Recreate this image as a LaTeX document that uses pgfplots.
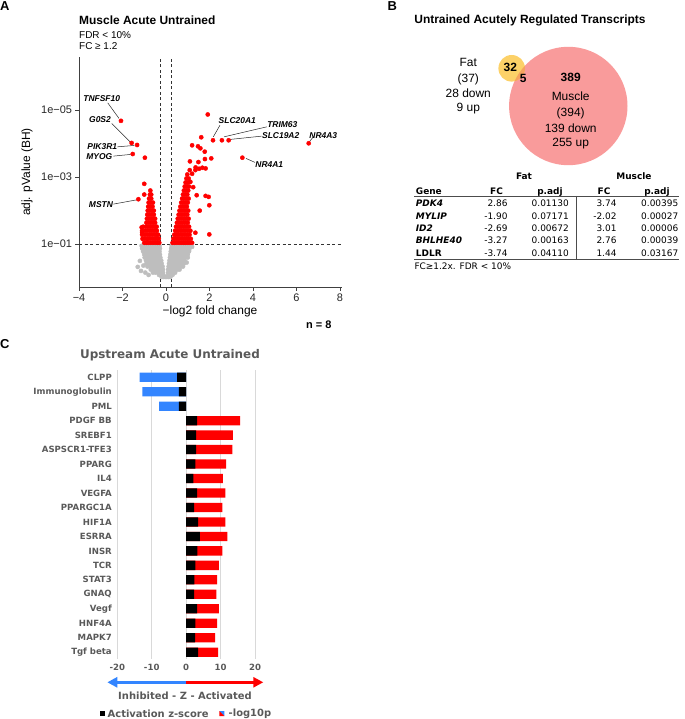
\documentclass[border=0pt]{standalone}
\usepackage{fontspec}
\setmainfont{Liberation Sans}
\newfontfamily\dv{DejaVu Sans}
\usepackage{pgfplots}
\pgfplotsset{compat=1.18}
\usetikzlibrary{arrows.meta}
\newcommand{\fs}[1]{\fontsize{#1}{#1}\selectfont}
\definecolor{sigred}{HTML}{FF0000}
\definecolor{nsgray}{HTML}{BEBEBE}
\definecolor{venpink}{HTML}{F99B9B}
\definecolor{vengold}{HTML}{FCD168}
\definecolor{venorange}{HTML}{F6A35E}
\definecolor{ipablue}{HTML}{3385FF}
\definecolor{ipagray}{HTML}{595959}
\definecolor{gridgray}{HTML}{D9D9D9}
\begin{document}
\begin{tikzpicture}
\path[use as bounding box] (0,0) rectangle (685bp,-719bp);

% ---------------- A: volcano ----------------
\begin{axis}[at={(79bp,-287bp)}, anchor=south west, scale only axis,
  width=263.2bp, height=229.8bp,
  xmin=-4, xmax=8.1, ymin=-0.28, ymax=6.58,
  axis x line*=bottom, axis y line*=left,
  axis line style={black!75, line width=0.7bp, -},
  tick align=outside, major tick length=3.5bp,
  tick style={black!75, line width=0.6bp},
  xtick={-4,-2,0,2,4,6,8}, xticklabels={−4,−2,0,2,4,6,8},
  ytick={1,3,5}, yticklabels={1e−01,1e−03,1e−05},
  tick label style={font=\fs{11}, text=black!85},
]
\addplot[only marks, mark=*, mark size=2.1bp, mark options={draw=nsgray, fill=nsgray}] coordinates {
(-0.2,0.02)(-0.12,0.02)(-0.04,0.02)(0.04,0.02)(0.12,0.02)(0.2,0.02)
(-0.32,0.08)(-0.22,0.08)(-0.12,0.08)(0.1,0.08)(0.2,0.08)(0.3,0.08)
(-0.6,0.15)(-0.48,0.15)(-0.36,0.15)(-0.24,0.15)(-0.14,0.15)(0.1,0.15)(0.2,0.15)(0.3,0.15)(0.42,0.15)
(-0.7,0.24)(-0.58,0.24)(-0.46,0.24)(-0.34,0.24)(-0.22,0.24)(-0.14,0.24)(0.1,0.24)(0.18,0.24)(0.28,0.24)(0.4,0.24)(0.52,0.24)(0.62,0.24)
(-0.85,0.33)(-0.72,0.33)(-0.6,0.33)(-0.48,0.33)(-0.36,0.33)(-0.24,0.33)(-0.16,0.33)(0.12,0.33)(0.2,0.33)(0.3,0.33)(0.42,0.33)(0.55,0.33)(0.68,0.33)(0.78,0.33)
(-0.9,0.42)(-0.78,0.42)(-0.66,0.42)(-0.54,0.42)(-0.42,0.42)(-0.3,0.42)(-0.2,0.42)(0.14,0.42)(0.22,0.42)(0.34,0.42)(0.46,0.42)(0.58,0.42)(0.7,0.42)(0.82,0.42)
(-0.92,0.51)(-0.8,0.51)(-0.68,0.51)(-0.56,0.51)(-0.44,0.51)(-0.32,0.51)(-0.22,0.51)(0.16,0.51)(0.24,0.51)(0.36,0.51)(0.48,0.51)(0.6,0.51)(0.72,0.51)(0.85,0.51)
(-0.98,0.6)(-0.86,0.6)(-0.74,0.6)(-0.62,0.6)(-0.5,0.6)(-0.38,0.6)(-0.26,0.6)(0.18,0.6)(0.26,0.6)(0.38,0.6)(0.5,0.6)(0.62,0.6)(0.74,0.6)(0.88,0.6)
(-1.0,0.69)(-0.88,0.69)(-0.76,0.69)(-0.64,0.69)(-0.52,0.69)(-0.4,0.69)(-0.28,0.69)(0.2,0.69)(0.28,0.69)(0.4,0.69)(0.52,0.69)(0.64,0.69)(0.76,0.69)(0.9,0.69)(1.0,0.69)
(-1.05,0.78)(-0.92,0.78)(-0.8,0.78)(-0.68,0.78)(-0.56,0.78)(-0.44,0.78)(-0.3,0.78)(0.22,0.78)(0.3,0.78)(0.42,0.78)(0.54,0.78)(0.66,0.78)(0.78,0.78)(0.92,0.78)(1.05,0.78)
(-1.1,0.87)(-0.96,0.87)(-0.84,0.87)(-0.72,0.87)(-0.6,0.87)(-0.48,0.87)(-0.36,0.87)(-0.28,0.87)(0.24,0.87)(0.32,0.87)(0.44,0.87)(0.56,0.87)(0.68,0.87)(0.8,0.87)(0.94,0.87)(1.08,0.87)
(-1.12,0.95)(-1.0,0.95)(-0.88,0.95)(-0.76,0.95)(-0.64,0.95)(-0.52,0.95)(-0.4,0.95)(-0.3,0.95)(0.26,0.95)(0.34,0.95)(0.46,0.95)(0.58,0.95)(0.7,0.95)(0.82,0.95)(0.96,0.95)(1.1,0.95)
(-1.3,0.32)(-1.04,0.36)(-1.2,0.5)(-1.15,0.2)(-0.8,0.08)(-0.95,0.15)(1.06,0.8)(1.2,0.92)(0.95,0.45)(1.0,0.6)
};
\addplot[only marks, mark=*, mark size=2.1bp, mark options={draw=sigred, fill=sigred}] coordinates {
(-1.0,1.04)(-0.9,1.04)(-0.8,1.04)(-0.7,1.04)(-0.6,1.04)(-0.5,1.04)(-0.4,1.04)(-0.31,1.04)
(-1.08,1.16)(-0.96,1.16)(-0.85,1.16)(-0.74,1.16)(-0.63,1.16)(-0.52,1.16)(-0.42,1.16)(-0.33,1.16)
(-1.1,1.28)(-0.98,1.28)(-0.87,1.28)(-0.76,1.28)(-0.65,1.28)(-0.54,1.28)(-0.44,1.28)(-0.36,1.28)
(-1.1,1.4)(-0.95,1.4)(-0.84,1.4)(-0.73,1.4)(-0.62,1.4)(-0.52,1.4)(-0.42,1.4)
(-1.05,1.52)(-0.92,1.52)(-0.81,1.52)(-0.7,1.52)(-0.6,1.52)(-0.5,1.52)(-0.43,1.52)
(-0.9,1.64)(-0.8,1.64)(-0.7,1.64)(-0.6,1.64)(-0.5,1.64)
(-0.88,1.76)(-0.78,1.76)(-0.68,1.76)(-0.58,1.76)(-0.5,1.76)
(-0.86,1.88)(-0.76,1.88)(-0.66,1.88)(-0.56,1.88)
(-0.84,2.0)(-0.74,2.0)(-0.64,2.0)(-0.56,2.0)
(-0.82,2.12)(-0.72,2.12)(-0.62,2.12)
(-0.8,2.24)(-0.7,2.24)(-0.6,2.24)
(-0.78,2.36)(-0.68,2.36)(-0.74,2.48)(-0.68,2.48)(-0.72,2.6)
(-1.0,2.80)(-1.0,2.48)(-0.97,3.58)(-1.27,2.34)(-1.53,3.69)(-1.33,3.96)(-1.58,4.02)(-2.07,4.68)(-1.12,1.5)(-1.1,1.35)
(0.3,1.04)(0.4,1.04)(0.5,1.04)(0.6,1.04)(0.7,1.04)(0.8,1.04)(0.9,1.04)(1.0,1.04)(1.1,1.04)(1.2,1.04)
(0.34,1.16)(0.44,1.16)(0.54,1.16)(0.64,1.16)(0.74,1.16)(0.84,1.16)(0.94,1.16)(1.04,1.16)(1.14,1.16)
(0.38,1.28)(0.48,1.28)(0.58,1.28)(0.68,1.28)(0.78,1.28)(0.88,1.28)(0.98,1.28)(1.08,1.28)
(0.42,1.4)(0.52,1.4)(0.62,1.4)(0.72,1.4)(0.82,1.4)(0.92,1.4)(1.02,1.4)(1.12,1.4)
(0.46,1.52)(0.56,1.52)(0.66,1.52)(0.76,1.52)(0.86,1.52)(0.96,1.52)(1.06,1.52)
(0.5,1.64)(0.6,1.64)(0.7,1.64)(0.8,1.64)(0.9,1.64)(1.0,1.64)
(0.54,1.76)(0.64,1.76)(0.74,1.76)(0.84,1.76)(0.94,1.76)(1.04,1.76)
(0.58,1.88)(0.68,1.88)(0.78,1.88)(0.88,1.88)(0.98,1.88)
(0.62,2.0)(0.72,2.0)(0.82,2.0)(0.92,2.0)(1.02,2.0)
(0.66,2.12)(0.76,2.12)(0.86,2.12)(0.96,2.12)
(0.7,2.24)(0.8,2.24)(0.9,2.24)(1.0,2.24)
(0.74,2.36)(0.84,2.36)(0.94,2.36)(1.04,2.36)
(0.78,2.48)(0.88,2.48)(0.98,2.48)
(0.82,2.6)(0.92,2.6)(1.02,2.6)
(0.86,2.72)(0.96,2.72)(1.06,2.72)
(0.9,2.84)(1.0,2.84)(0.94,2.96)(1.04,2.96)(0.98,3.08)
(1.12,2.86)(1.09,3.21)(1.35,3.21)(1.10,3.47)(1.36,3.29)(1.52,3.25)(1.67,3.28)(1.82,3.26)
(1.49,3.45)(1.79,3.54)(2.08,3.56)(1.78,3.76)(1.58,3.86)(1.47,3.92)(1.20,3.95)(1.62,4.19)
(1.92,4.87)(2.16,4.10)(2.57,4.10)(2.88,4.10)(6.56,4.01)(3.51,3.58)
(1.41,2.46)(1.82,2.44)(1.96,2.41)(1.99,2.16)(1.35,1.34)(1.99,1.29)(1.2,3.1)(1.25,2.7)(1.55,2.0)
};
\addplot[black!80, line width=0.6bp, dash pattern=on 3bp off 2.5bp] coordinates {(-0.263,-0.28) (-0.263,6.58)};
\addplot[black!80, line width=0.6bp, dash pattern=on 3bp off 2.5bp] coordinates {(0.263,-0.28) (0.263,6.58)};
\addplot[black!80, line width=0.6bp, dash pattern=on 3bp off 2.5bp] coordinates {(-4,1) (8.1,1)};
% gene labels
\begin{scope}[every node/.style={font=\bfseries\itshape\fs{8.5}, inner sep=0}]
\node at (axis cs:-2.956,5.337) {TNFSF10};
\node at (axis cs:-3.034,4.731) {G0S2};
\node at (axis cs:-2.929,3.904) {PIK3R1};
\node at (axis cs:-3.067,3.606) {MYOG};
\node at (axis cs:-2.989,2.194) {MSTN};
\node at (axis cs:3.278,4.681) {SLC20A1};
\node at (axis cs:5.347,4.582) {TRIM63};
\node at (axis cs:5.274,4.245) {SLC19A2};
\node at (axis cs:7.232,4.245) {NR4A3};
\node at (axis cs:4.749,3.379) {NR4A1};
\end{scope}
\begin{scope}[black!85, line width=0.5bp]
\draw (axis cs:-2.68,5.218) -- (axis cs:-2.161,4.752);
\draw (axis cs:-2.497,4.603) -- (axis cs:-1.655,4.054);
\draw (axis cs:-2.239,3.904) -- (axis cs:-1.457,3.946);
\draw (axis cs:-2.423,3.627) -- (axis cs:-1.623,3.678);
\draw (axis cs:-2.423,2.194) -- (axis cs:-1.347,2.322);
\draw (axis cs:2.483,4.552) -- (axis cs:2.175,4.203);
\draw (axis cs:4.63,4.501) -- (axis cs:2.667,4.203);
\draw (axis cs:4.4,4.224) -- (axis cs:2.943,4.125);
\draw (axis cs:6.77,4.2) -- (axis cs:6.589,4.054);
\draw (axis cs:4.092,3.439) -- (axis cs:3.678,3.558);
\end{scope}
\end{axis}

% ---------------- C: upstream regulators ----------------
\begin{axis}[at={(117.3bp,-659.4bp)}, anchor=south west, scale only axis,
  width=137.7bp, height=289.4bp,
  xmin=-20, xmax=20, ymin=-0.5, ymax=19.5, y dir=reverse,
  xbar, bar width=9.3bp, bar shift=0pt,
  axis line style={draw=none}, major tick length=0pt,
  xmajorgrids, grid style={gridgray, line width=0.7bp},
  xtick={-20,-10,0,10,20}, xticklabels={-20,-10,0,10,20},
  ytick={0,...,19},
  yticklabels={CLPP,Immunoglobulin,PML,PDGF BB,SREBF1,ASPSCR1-TFE3,PPARG,IL4,VEGFA,PPARGC1A,HIF1A,ESRRA,INSR,TCR,STAT3,GNAQ,Vegf,HNF4A,MAPK7,Tgf beta},
  tick label style={font=\dv\bfseries\fs{8.6}, text=ipagray},
  yticklabel style={xshift=-2bp}, xticklabel style={yshift=-1.5bp},
]
\addplot[fill=ipablue, draw=none] coordinates {(-13.55,0) (-12.68,1) (-7.84,2)};
\addplot[fill=red, draw=none] coordinates {
(15.68,3) (13.55,4) (13.46,5) (11.62,6) (10.65,7) (11.42,8) (10.55,9) (11.42,10)
(12.0,11) (10.55,12) (9.49,13) (9.0,14) (8.81,15) (9.49,16) (9.0,17) (8.42,18) (9.29,19)};
\addplot[fill=black, draw=none] coordinates {
(-2.6,0) (-2.13,1) (-2.13,2) (3.19,3) (2.9,4) (2.9,5) (2.71,6) (2.13,7) (3.19,8) (2.32,9)
(3.48,10) (3.97,11) (3.29,12) (2.71,13) (2.42,14) (2.32,15) (3.19,16) (2.71,17) (2.61,18) (3.48,19)};
\end{axis}

\begin{scope}[x=1bp, y=1bp]
% panel letters
\node[font=\bfseries\fs{13}, anchor=west, inner sep=0] at (0,-6.3) {A};
\node[font=\bfseries\fs{13}, anchor=west, inner sep=0] at (387.3,-6.3) {B};
\node[font=\bfseries\fs{13}, anchor=west, inner sep=0] at (0,-344) {C};

% A texts
\node[font=\bfseries\fs{12}, anchor=west, inner sep=0] at (79,-20.5) {Muscle Acute Untrained};
\node[font=\fs{10}, anchor=west, inner sep=0] at (79,-34.7) {FDR < 10\%};
\node[font=\fs{10}, anchor=west, inner sep=0] at (79,-46.3) {FC ≥ 1.2};
\node[font=\fs{12}, rotate=90] at (27,-172) {adj. pValue (BH)};
\node[font=\fs{12}] at (210,-311.7) {−log2 fold change};
\node[font=\bfseries\fs{11}, anchor=east, inner sep=0] at (331.7,-324.3) {n = 8};

% B: Venn
\node[font=\bfseries\fs{12}] at (530,-20.7) {Untrained Acutely Regulated Transcripts};
\fill[venpink] (568.3,-106) circle (59.2bp);
\fill[vengold] (511.7,-68.3) circle (13.3bp);
\begin{scope}
\clip (568.3,-106) circle (59.2bp);
\fill[venorange] (511.7,-68.3) circle (13.3bp);
\end{scope}
\begin{scope}[every node/.style={font=\fs{12}, inner sep=0}]
\node at (468.3,-62.7) {Fat};
\node at (468.3,-79) {(37)};
\node at (468.3,-93.3) {28 down};
\node at (468.3,-109) {9 up};
\node[font=\bfseries\fs{12}] at (510.3,-67) {32};
\node[font=\bfseries\fs{12}] at (523.3,-78.7) {5};
\node[font=\bfseries\fs{12}] at (570.7,-77) {389};
\node at (570.7,-96.7) {Muscle};
\node at (570.7,-113.3) {(394)};
\node at (570.7,-128.3) {139 down};
\node at (570.7,-144) {255 up};
\end{scope}

% B: table
\begin{scope}[every node/.style={font=\dv\fs{9}, inner sep=0}]
\node[font=\dv\bfseries\fs{9}, anchor=base] at (524,-179.3) {Fat};
\node[font=\dv\bfseries\fs{9}, anchor=base] at (634,-179.3) {Muscle};
\node[font=\dv\bfseries\fs{9}, anchor=base west] at (415.7,-194) {Gene};
\node[font=\dv\bfseries\fs{9}, anchor=base] at (496.5,-194) {FC};
\node[font=\dv\bfseries\fs{9}, anchor=base] at (550,-194) {p.adj};
\node[font=\dv\bfseries\fs{9}, anchor=base] at (604,-194) {FC};
\node[font=\dv\bfseries\fs{9}, anchor=base] at (657,-194) {p.adj};
% rows
\node[font=\dv\bfseries\itshape\fs{9}, anchor=base west] at (415.7,-206.7) {PDK4};
\node[anchor=base east] at (507.7,-206.7) {2.86};
\node[anchor=base east] at (569,-206.7) {0.01130};
\node[anchor=base east] at (616.7,-206.7) {3.74};
\node[anchor=base east] at (678.5,-206.7) {0.00395};
\node[font=\dv\bfseries\itshape\fs{9}, anchor=base west] at (415.7,-219.1) {MYLIP};
\node[anchor=base east] at (507.7,-219.1) {-1.90};
\node[anchor=base east] at (569,-219.1) {0.07171};
\node[anchor=base east] at (616.7,-219.1) {-2.02};
\node[anchor=base east] at (678.5,-219.1) {0.00027};
\node[font=\dv\bfseries\itshape\fs{9}, anchor=base west] at (415.7,-231.5) {ID2};
\node[anchor=base east] at (507.7,-231.5) {-2.69};
\node[anchor=base east] at (569,-231.5) {0.00672};
\node[anchor=base east] at (616.7,-231.5) {3.01};
\node[anchor=base east] at (678.5,-231.5) {0.00006};
\node[font=\dv\bfseries\itshape\fs{9}, anchor=base west] at (415.7,-243.9) {BHLHE40};
\node[anchor=base east] at (507.7,-243.9) {-3.27};
\node[anchor=base east] at (569,-243.9) {0.00163};
\node[anchor=base east] at (616.7,-243.9) {2.76};
\node[anchor=base east] at (678.5,-243.9) {0.00039};
\node[font=\dv\bfseries\fs{9}, anchor=base west] at (415.7,-256.3) {LDLR};
\node[anchor=base east] at (507.7,-256.3) {-3.74};
\node[anchor=base east] at (569,-256.3) {0.04110};
\node[anchor=base east] at (616.7,-256.3) {1.44};
\node[anchor=base east] at (678.5,-256.3) {0.03167};
\node[anchor=base west] at (414.3,-269) {FC≥1.2x. FDR < 10\%};
\end{scope}
\draw[black!70, line width=0.8bp] (414.3,-195.9) -- (679,-195.9);
\draw[black!70, line width=0.8bp] (414.3,-259) -- (679,-259);
\draw[black!70, line width=0.8bp] (576,-195.9) -- (576,-259);

% C texts
\node[font=\dv\bfseries\fs{12}, text=ipagray] at (170,-355) {Upstream Acute Untrained};
\draw[ipablue, line width=2.7bp, -{Triangle[length=10bp,width=10bp]}] (186,-682.3) -- (107.3,-682.3);
\draw[red, line width=2.7bp, -{Triangle[length=10bp,width=10bp]}] (186,-682.3) -- (263.3,-682.3);
\node[font=\dv\bfseries\fs{10}, text=ipagray] at (185,-695.7) {Inhibited - Z - Activated};
\fill[black] (100,-711) rectangle (105,-716);
\node[font=\dv\bfseries\fs{10}, text=ipagray, anchor=west, inner sep=0] at (107.5,-713.5) {Activation z-score};
\fill[ipablue] (219.3,-711) -- (224.3,-711) -- (224.3,-716) -- cycle;
\fill[red] (219.3,-711) -- (219.3,-716) -- (224.3,-716) -- cycle;
\node[font=\dv\bfseries\fs{10}, text=ipagray, anchor=west, inner sep=0] at (228.5,-713.5) {-log10p};
\end{scope}
\end{tikzpicture}
\end{document}
